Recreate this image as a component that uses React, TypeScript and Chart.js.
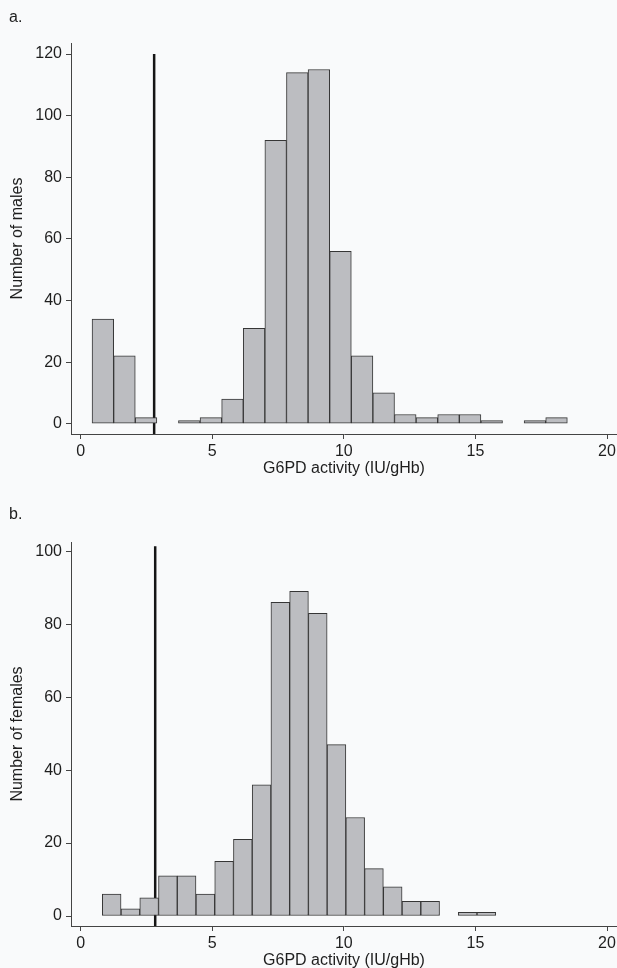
import React, { useEffect, useRef } from 'react';
import { Chart, registerables } from 'chart.js';
Chart.register(...registerables);

// ---- Data ----
const xTicks = [0, 5, 10, 15, 20];

// Panel a: males
const maleBinStart = 0.43;
const maleBinWidth = 0.821;
const maleCounts = [34, 22, 2, 0, 1, 2, 8, 31, 92, 114, 115, 56, 22, 10, 3, 2, 3, 3, 1, 0, 1, 2];
const maleYTicks = [0, 20, 40, 60, 80, 100, 120];
const maleCutoff = 2.79;
const maleCutoffTop = 120;

// Panel b: females
const femaleBinStart = 0.82;
const femaleBinWidth = 0.712;
const femaleCounts = [6, 2, 5, 11, 11, 6, 15, 21, 36, 86, 89, 83, 47, 27, 13, 8, 4, 4, 0, 1, 1];
const femaleYTicks = [0, 20, 40, 60, 80, 100];
const femaleCutoff = 2.83;
const femaleCutoffTop = 101.4;

const FONT = "'Liberation Sans', Arial, Helvetica, sans-serif";
const TEXT = '#1e1e1e';
const AXIS = '#444444';

type PanelProps = {
  label: string;
  labelTop: number;
  counts: number[];
  binStart: number;
  binWidth: number;
  yTicks: number[];
  yMin: number;
  yMax: number;
  cutoff: number;
  cutoffTop: number;
  yTitle: string;
  height: number;
  padTop: number;
  xAxisHeight: number;
  xTitlePadBottom: number;
};

function Panel(p: PanelProps) {
  const ref = useRef<HTMLCanvasElement | null>(null);
  useEffect(() => {
    if (!ref.current) return;
    const bars = p.counts
      .map((c, i) => ({ x: p.binStart + p.binWidth * (i + 0.5), y: c }))
      .filter((d) => d.y > 0);
    const chart = new Chart(ref.current, {
      type: 'bar',
      data: {
        datasets: [
          {
            type: 'bar',
            data: bars,
            backgroundColor: '#bcbdc1',
            borderColor: '#363636',
            borderWidth: 1,
            borderSkipped: false,
            barPercentage: 1,
            categoryPercentage: 1,
          } as any,
          {
            type: 'line',
            data: [
              { x: p.cutoff, y: p.cutoffTop },
              { x: p.cutoff, y: p.yMin },
            ],
            borderColor: '#151515',
            borderWidth: 2.5,
            pointRadius: 0,
            fill: false,
          } as any,
        ],
      },
      options: {
        animation: false,
        responsive: false,
        devicePixelRatio: 1,
        layout: { padding: { top: p.padTop, left: 0, right: 0, bottom: 0 } },
        plugins: { legend: { display: false }, tooltip: { enabled: false }, title: { display: false } },
        scales: {
          x: {
            type: 'linear',
            min: -0.37,
            max: 20.38,
            offset: false,
            afterBuildTicks: (s: any) => {
              s.ticks = xTicks.map((v) => ({ value: v }));
            },
            afterFit: (s: any) => {
              s.height = p.xAxisHeight;
              s.paddingLeft = 0;
              s.paddingRight = 0;
            },
            grid: { display: true, offset: false, drawOnChartArea: false, drawTicks: true, tickLength: 5, tickColor: AXIS, tickWidth: 1 },
            border: { display: true, color: AXIS, width: 1 },
            ticks: { color: TEXT, font: { family: FONT, size: 16 }, padding: 3, maxRotation: 0, autoSkip: false },
            title: {
              display: true,
              text: 'G6PD activity (IU/gHb)',
              color: TEXT,
              font: { family: FONT, size: 16 },
              padding: { top: 0, bottom: p.xTitlePadBottom },
            },
          },
          y: {
            type: 'linear',
            min: p.yMin,
            max: p.yMax,
            afterBuildTicks: (s: any) => {
              s.ticks = p.yTicks.map((v) => ({ value: v }));
            },
            afterFit: (s: any) => {
              s.width = 71;
              s.paddingTop = 0;
              s.paddingBottom = 0;
            },
            grid: { display: true, offset: false, drawOnChartArea: false, drawTicks: true, tickLength: 5, tickColor: AXIS, tickWidth: 1 },
            border: { display: true, color: AXIS, width: 1 },
            ticks: { color: TEXT, font: { family: FONT, size: 16 }, padding: 4, autoSkip: false },
            title: {
              display: true,
              text: p.yTitle,
              color: TEXT,
              font: { family: FONT, size: 16 },
              padding: { top: 8.4, bottom: 0 },
            },
          },
        },
      } as any,
    });
    return () => chart.destroy();
  }, []);

  return (
    <div style={{ position: 'relative', width: 617, height: p.height }}>
      <div
        style={{
          position: 'absolute',
          left: 9,
          top: p.labelTop,
          font: `16px ${FONT}`,
          color: TEXT,
          lineHeight: '18px',
        }}
      >
        {p.label}
      </div>
      <canvas ref={ref} width={617} height={p.height} style={{ display: 'block', width: 617, height: p.height }} />
    </div>
  );
}

export default function App() {
  useEffect(() => {
    document.body.style.margin = '0';
    document.body.style.overflow = 'hidden';
    document.body.style.background = '#f9fafb';
  }, []);
  return (
    <div style={{ width: 617, height: 968, background: '#f9fafb', overflow: 'hidden' }}>
      <Panel
        label="a."
        labelTop={8}
        counts={maleCounts}
        binStart={maleBinStart}
        binWidth={maleBinWidth}
        yTicks={maleYTicks}
        yMin={-3.34}
        yMax={123.6}
        cutoff={maleCutoff}
        cutoffTop={maleCutoffTop}
        yTitle="Number of males"
        height={478}
        padTop={43}
        xAxisHeight={44}
        xTitlePadBottom={0}
      />
      <Panel
        label="b."
        labelTop={27}
        counts={femaleCounts}
        binStart={femaleBinStart}
        binWidth={femaleBinWidth}
        yTicks={femaleYTicks}
        yMin={-2.74}
        yMax={102.55}
        cutoff={femaleCutoff}
        cutoffTop={femaleCutoffTop}
        yTitle="Number of females"
        height={490}
        padTop={64}
        xAxisHeight={42}
        xTitlePadBottom={-2.6}
      />
    </div>
  );
}
